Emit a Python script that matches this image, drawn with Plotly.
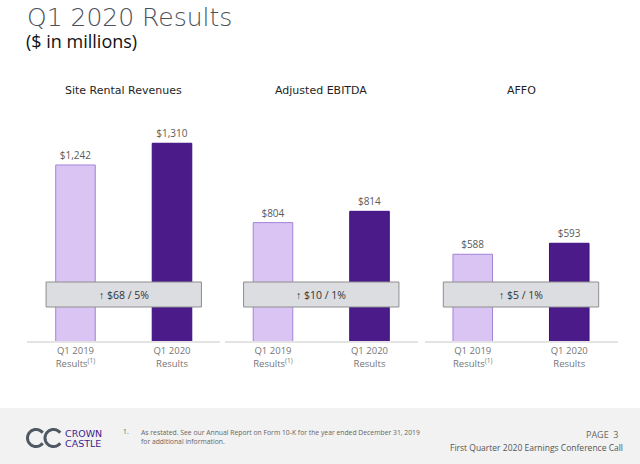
import numpy as np
import plotly.graph_objects as go

# data
panel_titles = ["Site Rental Revenues", "Adjusted EBITDA", "AFFO"]
periods = ["Q1 2019", "Q1 2020"]
period_labels = ["Q1 2019<br>Results<sup>(1)</sup>", "Q1 2020<br>Results"]
site_rental = [1242, 1310]
adj_ebitda = [804, 814]
affo = [588, 593]
changes = ["↑ $68 / 5%", "↑ $10 / 1%", "↑ $5 / 1%"]

series = [site_rental, adj_ebitda, affo]

# truncated value axes, one per panel (like the slide)
y_ranges = [[690, 1383], [699, 895], [548.6, 649]]

W, H = 640, 464
TOP, BASE = 120, 341  # plot area in pixels


def px(x):
    return x / W


def py(y):
    return (BASE - y) / (BASE - TOP)


domains = [[27.25, 220.25], [224.75, 417.75], [424.5, 617.5]]
bar_fill = ["#d9c4f3", "#4b1b89"]
bar_edge = ["#a284d8", "#3a1083"]
FONT = "Open Sans"

fig = go.Figure()
for i, vals in enumerate(series):
    sfx = "" if i == 0 else str(i + 1)
    fig.add_trace(go.Bar(
        x=periods, y=vals,
        xaxis="x" + sfx, yaxis="y" + sfx,
        width=0.41,
        marker=dict(color=bar_fill, line=dict(color=bar_edge, width=1)),
        texttemplate="$%{y:,.0f}", textposition="outside",
        textfont=dict(family=FONT, size=10, color="#5a5a5a"),
        cliponaxis=False, showlegend=False, hoverinfo="skip",
    ))
    fig.update_layout(**{
        "xaxis" + sfx: dict(
            domain=[px(domains[i][0]), px(domains[i][1])], anchor="y" + sfx,
            range=[-0.5, 1.5], tickvals=periods, ticktext=period_labels,
            showline=True, linecolor="#e4e4e4", linewidth=2,
            ticks="", showgrid=False, zeroline=False, fixedrange=True,
            tickfont=dict(family=FONT, size=9.5, color="#757575"),
        ),
        "yaxis" + sfx: dict(
            domain=[0, 1], anchor="x" + sfx, range=y_ranges[i],
            visible=False, fixedrange=True,
        ),
    })

shapes = []
annotations = []

# footer band
shapes.append(dict(type="rect", xref="paper", yref="paper", x0=0, x1=1,
                   y0=py(408), y1=py(464), fillcolor="#f2f2f2",
                   line=dict(width=0), layer="below"))

for i in range(3):
    sfx = "" if i == 0 else str(i + 1)
    shapes.append(dict(type="rect", xref="x" + sfx, yref="paper",
                       x0=-0.305, x1=1.305, y0=py(307), y1=py(282),
                       fillcolor="#dcdde0", line=dict(color="#8e8e8e", width=1),
                       layer="above"))
    annotations.append(dict(xref="x" + sfx, yref="paper", x=0.5, y=py(295),
                            xanchor="center", yanchor="middle",
                            text=changes[i], showarrow=False,
                            font=dict(family=FONT, size=10.5, color="#333333")))
    annotations.append(dict(xref="paper", yref="paper",
                            x=px(sum(domains[i]) / 2), y=py(90),
                            xanchor="center", yanchor="middle",
                            text=panel_titles[i], showarrow=False,
                            font=dict(family="DejaVu Sans", size=11,
                                      color="#1e1e1e")))


# logo: two open circles
def c_path(cx, cy, r, a0=38, a1=322, n=48):
    a = np.radians(np.linspace(a0, a1, n))
    pts = [f"{px(cx + r * np.cos(t)):.5f},{py(cy - r * np.sin(t)):.5f}" for t in a]
    return "M" + " L".join(pts)


for cx in (36, 53.5):
    shapes.append(dict(type="path", xref="paper", yref="paper",
                       path=c_path(cx, 438, 8.5),
                       line=dict(color="#4d5862", width=3)))


def note(x, y, text, xanchor="left", **font):
    return dict(xref="paper", yref="paper", x=px(x), y=py(y), xanchor=xanchor,
                yanchor="middle", align=xanchor, text=text, showarrow=False,
                font=font)


annotations += [
    note(25, 17, "Q1 2020 Results", family="DejaVu Sans", size=25,
         color="#4b5159", weight=300),
    note(24, 41, "($ in millions)", family=FONT, size=18, color="#111111"),
    note(63, 433, "CROWN", family="DejaVu Sans", size=9.5, color="#3f1d8f"),
    note(63, 443, "CASTLE", family="DejaVu Sans", size=9.5, color="#3f1d8f"),
    note(121, 432, "1.", family=FONT, size=6.8, color="#666666"),
    note(139, 436.5,
         "As restated. See our Annual Report on Form 10-K for the year ended December 31, 2019"
         "<br>for additional information.",
         family=FONT, size=6.8, color="#666666"),
    note(620, 434, "PAGE  3", xanchor="right", family=FONT, size=9,
         color="#666666"),
    note(625, 447, "First Quarter 2020 Earnings Conference Call", xanchor="right",
         family=FONT, size=8.5, color="#555555"),
]

fig.update_layout(
    width=W, height=H,
    margin=dict(l=0, r=0, t=TOP, b=H - BASE),
    paper_bgcolor="white", plot_bgcolor="white",
    shapes=shapes, annotations=annotations,
)

fig.write_html("out.html", config={"displayModeBar": False},
               post_script="document.body.style.margin='0';")
